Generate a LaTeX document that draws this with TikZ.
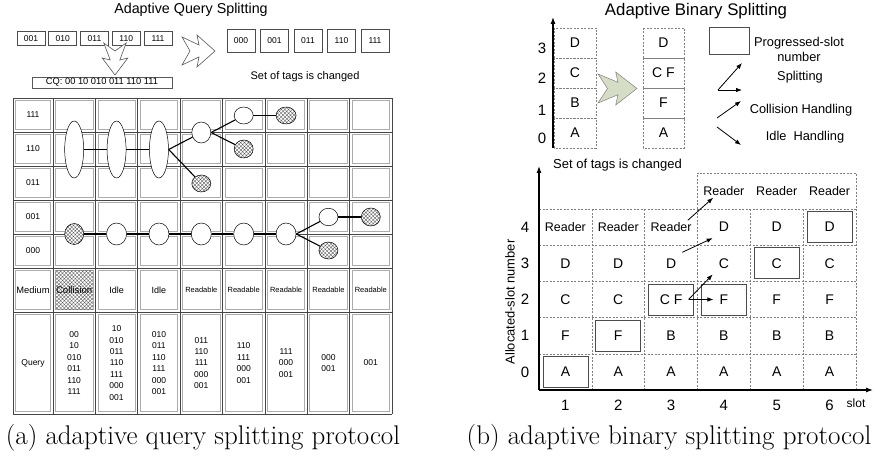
\documentclass[tikz,border=0pt]{standalone}
\usepackage{fontspec}
\setsansfont{Liberation Sans}
\usetikzlibrary{shapes.geometric,patterns.meta,arrows.meta}

\tikzset{
  tag/.style={draw=gray!60!black,line width=0.9pt,
    minimum width=28,minimum height=14,inner sep=0,font=\sffamily\fontsize{8.5}{10}\selectfont},
  frm/.style={draw=gray!55!black,line width=0.7pt},
  cell/.style={draw=gray!65,line width=0.6pt},
  bubble/.style={ellipse,draw,fill=white,line width=0.5pt,inner sep=0,minimum width=19},
  hatch/.style={bubble,preaction={fill=white},
    pattern={Hatch[angle=45,distance=2.6pt,line width=0.35pt]},pattern color=gray!70!black},
  link/.style={line width=1.1pt},
  small/.style={font=\sffamily\fontsize{8.5}{11.4}\selectfont,align=center},
  tiny/.style={font=\sffamily\fontsize{7.5}{9}\selectfont},
  dbox/.style={draw=gray,dash pattern=on 2pt off 1.5pt,line width=0.5pt},
  pbox/.style={draw=gray!60!black,line width=0.8pt,minimum width=45,minimum height=31},
  letter/.style={font=\sffamily\fontsize{14}{16}\selectfont,inner sep=6pt},
  reader/.style={font=\sffamily\fontsize{12.5}{15}\selectfont,inner sep=2pt},
  keytext/.style={font=\sffamily\fontsize{12.8}{15}\selectfont,align=center},
  arr/.style={-{Latex[length=6pt,width=4.5pt]},line width=0.8pt},
  axis/.style={-{Latex[length=7pt,width=5pt]},line width=1.1pt},
  caption/.style={font=\rmfamily\fontsize{27}{32}\selectfont,anchor=base},
}

\begin{document}
\begin{tikzpicture}[x=1pt,y=-1pt]
\useasboundingbox (0,0) rectangle (873,457);

% (a) adaptive query splitting
\node[font=\sffamily\fontsize{14.3}{16}\selectfont] (qtitle) at (191,9.5) {Adaptive Query Splitting};
\foreach \t [count=\i] in {001,010,011,110,111}
  \node[tag] (old\i) at ({31+31.75*(\i-1)},38.5) {\t};
\foreach \t [count=\i] in {000,001,011,110,111}
  \node[tag,minimum height=23] (new\i) at ({241+33.5*(\i-1)},40.5) {\t};
\draw[fill=white,draw=gray!70!black,line width=0.6pt] (103.8,43) -- (110.2,60) -- (102.2,58) -- (115,75)
  -- (127.8,58) -- (119.8,60) -- (126.2,43) -- (115,51) -- cycle;
\draw[fill=white,draw=gray!70!black,line width=0.6pt] (182,37) -- (199,45) -- (197,35) -- (215,51)
  -- (197,67) -- (199,57) -- (182,65) -- (190,51) -- cycle;
\node[draw=gray!70!black,line width=0.5pt,minimum width=140,minimum height=11,inner sep=0,
  font=\sffamily\fontsize{9.3}{10}\selectfont] (cq) at (102,82.5) {CQ: 00 10 010 011 110 111};
\node[font=\sffamily\fontsize{11}{13}\selectfont] (qchg) at (305,77) {Set of tags is changed};

% grid
\foreach \x in {13,53,95.375,137.75,180.125,222.5,264.875,307.25,349.625,392}
  \draw[frm] (\x,98) -- (\x,414);
\foreach \y in {98,132,166,200,234,268,312,414}
  \draw[frm] (13,\y) -- (392,\y);
\foreach \xa/\xb in {13/53,53/95.375,95.375/137.75,137.75/180.125,180.125/222.5,
    222.5/264.875,264.875/307.25,307.25/349.625,349.625/392}
  \foreach \ya/\yb in {98/132,132/166,166/200,200/234,234/268,268/312,312/414}
    \draw[cell] (\xa+2.5,\ya+2.5) rectangle (\xb-2.5,\yb-2.5);
\fill[pattern={Hatch[angle=45,distance=2.6pt,line width=0.35pt]},pattern color=gray!70!black]
  (55.5,270.5) rectangle (92.875,309.5);

\foreach \t/\y [count=\i] in {111/115,110/149,011/183,001/217,000/251}
  \node[small] (row\i) at (33,\y) {\t};
\node[font=\sffamily\fontsize{9.3}{10}\selectfont] (medium) at (33,290) {Medium};
\node[small] (query) at (33,363) {Query};
\node[font=\sffamily\fontsize{9.6}{10}\selectfont] (m1) at (74.19,290) {Collision};
\node[font=\sffamily\fontsize{9}{10}\selectfont] (m2) at (116.56,290) {Idle};
\node[font=\sffamily\fontsize{9}{10}\selectfont] (m3) at (158.94,290) {Idle};
\foreach \i in {4,...,8}
  \node[tiny] (m\i) at ({53+42.375*(\i-0.5)},290) {Readable};
\foreach \q [count=\i] in {{00\\10\\010\\011\\110\\111},{10\\010\\011\\110\\111\\000\\001},
    {010\\011\\110\\111\\000\\001},{011\\110\\111\\000\\001},{110\\111\\000\\001},
    {111\\000\\001},{000\\001},{001}}
  \node[small] (q\i) at ({53+42.375*(\i-0.5)},363) {\q};

% upper tree
\node[bubble,minimum height=57] (u1) at (74.19,149.5) {};
\node[bubble,minimum height=57] (u2) at (116.56,149.5) {};
\node[bubble,minimum height=57] (u3) at (158.94,149.5) {};
\node[bubble,minimum height=21] (u4) at (201.31,132.5) {};
\node[hatch,minimum height=17] (h4) at (201.31,183.5) {};
\node[bubble,minimum height=17] (u5) at (243.69,115.5) {};
\node[hatch,minimum height=18] (h5) at (243.69,149) {};
\node[hatch,minimum width=20,minimum height=17] (h6) at (286.06,115.5) {};
\draw[link] (u1) -- (u2);
\draw[link] (u2) -- (u3);
\draw[link] (u3.east) -- (u4);
\draw[link] (u3.east) -- (h4);
\draw[link] (u4.east) -- (u5);
\draw[link] (u4.east) -- (h5);
\draw[link] (u5) -- (h6);

% lower tree
\node[hatch,minimum height=21] (l1) at (74.19,234) {};
\foreach \i in {2,...,6}
  \node[bubble,minimum width=20,minimum height=22] (l\i) at ({53+42.375*(\i-0.5)},234) {};
\node[bubble,minimum height=17.5] (l7) at (328.44,217) {};
\node[hatch,minimum height=17] (h7) at (328.44,250.5) {};
\node[hatch,minimum height=18] (h8) at (370.81,217) {};
\foreach \i [evaluate=\i as \j using int(\i+1)] in {1,...,5}
  \draw[link] (l\i) -- (l\j);
\draw[link] (l6.east) -- (l7);
\draw[link] (l6.east) -- (h7);
\draw[link] (l7) -- (h8);

% (b) adaptive binary splitting
\node[font=\sffamily\fontsize{16.8}{19}\selectfont] (btitle) at (696,11) {Adaptive Binary Splitting};
\draw[axis] (553,148) -- (553,17);
\foreach \t/\y in {3/48,2/78,1/110,0/138}
  \node[font=\sffamily\fontsize{15}{17}\selectfont] (n\t) at (542,\y) {\t};
\foreach \y in {28,58,88,118} {
  \draw[dbox] (554,\y) rectangle (596,\y+30);
  \draw[dbox] (643,\y) rectangle (684,\y+30);
}
\foreach \t/\s/\y in {D/1/43,C/2/73,B/3/103,A/4/133}
  \node[letter] (a\s) at (575,\y) {\t};
\foreach \t/\s/\y in {D/1/43,C F/2/73,F/3/103,A/4/133}
  \node[letter] (b\s) at (663.5,\y) {\t};
\draw[fill={rgb,255:red,214;green,221;blue,199},draw=gray,line width=0.5pt]
  (598,74) -- (618,82.3) -- (615.7,72) -- (637,88.5) -- (615.7,105) -- (618,94.7)
  -- (598,103) -- (607.5,88.5) -- cycle;
\node[font=\sffamily\fontsize{13}{15}\selectfont] (bchg) at (617.5,165) {Set of tags is changed};

% legend
\node[draw=gray!60!black,line width=0.8pt,minimum width=40,minimum height=27] (key) at (729,40.5) {};
\node[keytext,text depth=0pt] (keytxt) at (799,49.5) {Progressed-slot\\number};
\coordinate (sp0) at (718,90);
\coordinate (sp1) at (742,63);
\coordinate (sp2) at (742,90);
\draw[arr] (sp0) -- (sp1);
\draw[arr] (sp0) -- (sp2);
\node[keytext] (sptxt) at (800,77) {Splitting};
\coordinate (cl0) at (717,118);
\coordinate (cl1) at (741,101);
\draw[arr] (cl0) -- (cl1);
\node[keytext] (cltxt) at (801,110) {Collision Handling};
\coordinate (id0) at (717,127);
\coordinate (id1) at (741,145);
\draw[arr] (id0) -- (id1);
\node[keytext] (idtxt) at (805,137) {Idle\ \ Handling};

% slot grid
\foreach \i in {1,...,5}
  \draw[dbox] ({539+52.83*\i},390) -- ({539+52.83*\i},209);
\draw[dbox] (697.5,209) -- (697.5,172.8) -- (856,172.8) -- (856,390);
\foreach \j in {1,...,5}
  \draw[dbox] (539,{390-36.2*\j}) -- (856,{390-36.2*\j});
\draw[axis] (539,390) -- (539,166);
\draw[axis] (539,390) -- (873,390);

\foreach \r/\row in {0/{A,A,A,A,A,A},1/{F,F,B,B,B,B},2/{C,C,C F,F,F,F},3/{D,D,D,C,C,C}}
  \foreach \t [count=\s] in \row
    \node[letter] (c-\s-\r) at ({539+52.83*(\s-0.5)},{390-36.2*(\r+0.5)}) {\t};
\foreach \s in {1,2,3}
  \node[reader] (c-\s-4) at ({539+52.83*(\s-0.5)},227.1) {Reader};
\foreach \s in {4,5,6} {
  \node[letter] (c-\s-4) at ({539+52.83*(\s-0.5)},227.1) {D};
  \node[reader] (c-\s-5) at ({539+52.83*(\s-0.5)},190.9) {Reader};
}
\foreach \s/\r in {1/0,2/1,3/2,4/2,5/3,6/4}
  \node[pbox] (p\s) at ({539+52.83*(\s-0.5)},{390-36.2*(\r+0.5)}) {};

\draw[arr] ([xshift=-6]c-3-4.north east) -- ([xshift=12]c-4-5.south west);
\draw[arr] (c-3-3.north east) -- (c-4-4.south west);
\draw[arr] (c-3-2.east) -- (c-4-2.west);
\draw[arr] (c-3-2.east) -- (c-4-3.south west);

\foreach \r in {0,...,4}
  \node[font=\sffamily\fontsize{15}{17}\selectfont] (y\r) at (525,{390-36.2*(\r+0.5)}) {\r};
\foreach \s in {1,...,6}
  \node[font=\sffamily\fontsize{15}{17}\selectfont] (x\s) at ({539+52.83*(\s-0.5)},405) {\s};
\node[font=\sffamily\fontsize{12}{14}\selectfont] (slot) at (856,403) {slot};
\node[font=\sffamily\fontsize{12.9}{15}\selectfont,rotate=90] (ylab) at (510,302) {Allocated-slot number};

% captions
\node[caption] (capa) at (203,444) {(a) adaptive query splitting protocol};
\node[caption] (capb) at (669,444) {(b) adaptive binary splitting protocol};
\end{tikzpicture}
\end{document}
